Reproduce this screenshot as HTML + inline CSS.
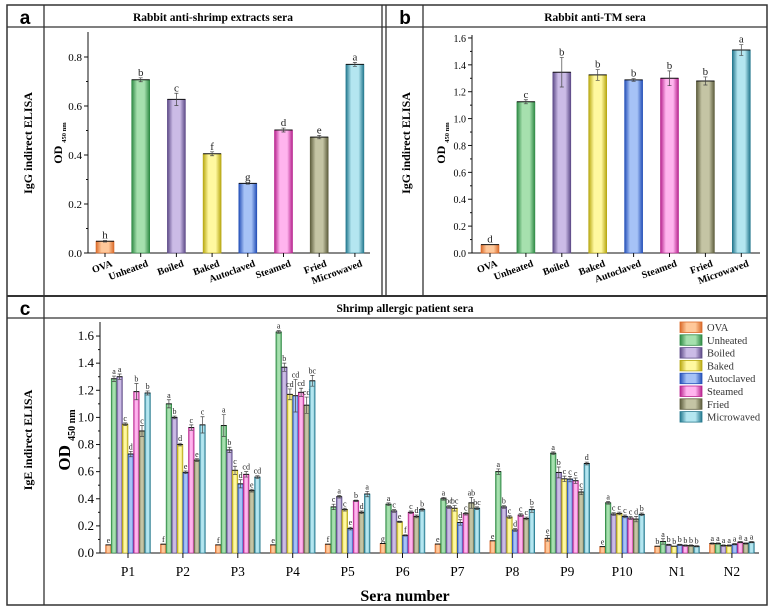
<!DOCTYPE html>
<html><head><meta charset="utf-8"><style>
html,body{margin:0;padding:0;background:#fff;}
svg{display:block;}
text{font-family:"Liberation Serif",serif;}
text.pl{font-family:"Liberation Sans",sans-serif;}
</style></head><body>
<svg id="s" width="777" height="613" xmlns="http://www.w3.org/2000/svg"></svg>
<script>
(function(){
const C=[["#d96a2a","#ffc89a"],["#2f8a45","#a6e0ae"],["#5e4b88","#cbbbe6"],["#b8a812","#fff8a0"],["#2550b8","#a6c2f6"],["#b8248e","#ffb4ee"],["#5e5e3e","#c4c4a4"],["#24788e","#b4e6f0"]];
const names=["OVA","Unheated","Boiled","Baked","Autoclaved","Steamed","Fried","Microwaved"];
let h='<defs>';
C.forEach((c,i)=>{h+=`<linearGradient id="g${i}" x1="0" x2="1" y1="0" y2="0"><stop offset="0" stop-color="${c[0]}"/><stop offset="0.3" stop-color="${c[1]}"/><stop offset="0.7" stop-color="${c[1]}"/><stop offset="1" stop-color="${c[0]}"/></linearGradient>`});
h+='</defs>';
const L='stroke="#333" fill="none"';
h+=`<rect x="7" y="5" width="760" height="600" ${L} stroke-width="1.5"/>`;
h+=`<line x1="7" y1="27" x2="767" y2="27" stroke="#333" stroke-width="1.3"/>`;
h+=`<line x1="7" y1="296" x2="767" y2="296" stroke="#333" stroke-width="2"/>`;
h+=`<line x1="7" y1="318" x2="767" y2="318" stroke="#333" stroke-width="1.3"/>`;
h+=`<line x1="44" y1="5" x2="44" y2="605" stroke="#333" stroke-width="1.3"/>`;
h+=`<line x1="382" y1="5" x2="382" y2="296" stroke="#333" stroke-width="1.3"/>`;
h+=`<line x1="386" y1="5" x2="386" y2="296" stroke="#333" stroke-width="1.3"/>`;
h+=`<line x1="423" y1="5" x2="423" y2="296" stroke="#333" stroke-width="1.3"/>`;
h+=`<text class="pl" x="25" y="24" font-weight="bold" font-size="19" text-anchor="middle">a</text>`;
h+=`<text class="pl" x="405" y="24" font-weight="bold" font-size="19" text-anchor="middle">b</text>`;
h+=`<text class="pl" x="25" y="315" font-weight="bold" font-size="19" text-anchor="middle">c</text>`;
h+=`<text x="213" y="21" font-weight="bold" font-size="11.5" text-anchor="middle">Rabbit anti-shrimp extracts sera</text>`;
h+=`<text x="595" y="21" font-weight="bold" font-size="11.5" text-anchor="middle">Rabbit anti-TM sera</text>`;
h+=`<text x="405" y="312" font-weight="bold" font-size="11.5" text-anchor="middle">Shrimp allergic patient sera</text>`;
function rot(x,y,t,fs,fw){return `<text transform="translate(${x},${y}) rotate(-90)" font-size="${fs}" font-weight="${fw}" text-anchor="middle">${t}</text>`;}
h+=rot(32,143,"IgG indirect ELISA",12,"bold");
h+=rot(410,143,"IgG indirect ELISA",12,"bold");
h+=rot(32,440,"IgE indirect ELISA",12,"bold");
h+=`<text transform="translate(62,143) rotate(-90)" font-size="12" font-weight="bold" text-anchor="middle">OD <tspan font-size="6.5" dy="4">450 nm</tspan></text>`;
h+=`<text transform="translate(445,143) rotate(-90)" font-size="12" font-weight="bold" text-anchor="middle">OD <tspan font-size="6.5" dy="4">450 nm</tspan></text>`;
h+=`<text transform="translate(70,440) rotate(-90)" font-size="17" font-weight="bold" text-anchor="middle">OD <tspan font-size="10" dy="5">450 nm</tspan></text>`;
function bar(x,w,y0,yv,i,err,lab,fs){
 let s=`<rect x="${x}" y="${yv}" width="${w}" height="${y0-yv}" fill="url(#g${i})" stroke="${C[i][0]}" stroke-width="0.6"/>`;
 s+=`<line x1="${x}" x2="${x+w}" y1="${yv}" y2="${yv}" stroke="#111" stroke-width="1"/>`;
 if(err>0.5){const cx=x+w/2;s+=`<path d="M${cx} ${yv-err}V${yv+err}M${cx-2} ${yv-err}H${cx+2}M${cx-2} ${yv+err}H${cx+2}" stroke="#444" stroke-width="0.7"/>`;}
 s+=`<text x="${x+w/2}" y="${yv-err-2}" font-size="${fs}" text-anchor="middle" fill="#222">${lab}</text>`;
 return s;}
function yaxis(ax,y0,ppu,max,step,xend,fs,tl){
 let s=`<path d="M${ax} ${tl}V${y0}H${xend}" stroke="#111" stroke-width="1" fill="none"/>`;
 for(let v=0;v<=max+1e-6;v+=step/2){const y=y0-v*ppu;const major=Math.abs(Math.round(v/step)*step-v)<1e-6;
  s+=`<line x1="${ax-(major?4:2)}" x2="${ax}" y1="${y}" y2="${y}" stroke="#111"/>`;
  if(major)s+=`<text x="${ax-6}" y="${y+4}" font-size="${fs}" text-anchor="end">${v.toFixed(1)}</text>`;}
 return s;}
h+=yaxis(88,253,245,0.8,0.2,370,11,32);
const va=[.048,.707,.627,.405,.284,.502,.473,.770],ea=[.003,.008,.025,.008,.003,.008,.007,.008],la=["h","b","c","f","g","d","e","a"];
va.forEach((v,i)=>{const cx=105+i*35.7;h+=bar(cx-9,18,253,253-v*245,i,ea[i]*245,la[i],11);
 h+=`<line x1="${cx}" x2="${cx}" y1="253" y2="257" stroke="#111"/>`;
 h+=`<text transform="translate(${cx+8},266) rotate(-20)" font-size="10" font-weight="bold" text-anchor="end">${names[i]}</text>`;});
h+=yaxis(472,253,134.4,1.6,0.2,760,10,35);
const vb=[.062,1.125,1.345,1.325,1.288,1.30,1.28,1.51],eb=[.003,.015,.11,.04,.01,.055,.03,.04],lb=["d","c","b","b","b","b","b","a"];
vb.forEach((v,i)=>{const cx=490+i*35.9;h+=bar(cx-9,18,253,253-v*134.4,i,eb[i]*134.4,lb[i],11);
 h+=`<line x1="${cx}" x2="${cx}" y1="253" y2="257" stroke="#111"/>`;
 h+=`<text transform="translate(${cx+8},266) rotate(-20)" font-size="10" font-weight="bold" text-anchor="end">${names[i]}</text>`;});
h+=yaxis(100,553,135.6,1.6,0.2,759,13,322);
const D=[
[[.06,1.285,1.30,.95,.73,1.19,.90,1.18],"e a a c d b c b",[0,.02,.02,.01,.02,.06,.04,.015]],
[[.065,1.10,1.00,.80,.595,.925,.685,.945],"f a b d e c e c",[0,.03,.01,.01,.01,.02,.01,.06]],
[[.06,.94,.76,.61,.51,.58,.46,.56],"f a b c d cd e cd",[0,.08,.02,.03,.03,.02,.01,.01]],
[[.06,1.63,1.37,1.17,1.16,1.185,1.09,1.27],"e a b cd cd cd cd bc",[0,.01,.03,.04,.12,.03,.06,.04]],
[[.065,.34,.415,.32,.18,.385,.30,.435],"f c a c e b d a",[0,.02,.01,.01,.01,.005,.01,.02]],
[[.07,.36,.31,.23,.13,.30,.27,.32],"g a c e f c d b",[0,.01,.01,.005,.005,.01,.01,.01]],
[[.066,.40,.34,.33,.225,.29,.37,.33],"e a bc bc d c ab bc",[0,.01,.01,.02,.02,.01,.04,.01]],
[[.09,.60,.34,.265,.17,.28,.255,.32],"e a b c d c c b",[0,.02,.01,.01,.01,.01,.01,.02]],
[[.108,.736,.594,.547,.545,.533,.45,.66],"e a b c c c c d b",[.02,.01,.04,.02,.02,.02,.02,.01]],
[[.047,.37,.287,.292,.27,.258,.25,.285],"e a c c c c d b",[0,.01,.01,.01,.01,.01,.02,.01]],
[[.05,.085,.06,.05,.06,.055,.055,.05],"b a b b b b b b",[0,.02,.005,0,.005,.005,.005,.005]],
[[.07,.07,.055,.055,.065,.08,.07,.08],"a a a a a a a a",[.005,.005,.005,.005,.005,.005,.005,.005]]];
const gl=["P1","P2","P3","P4","P5","P6","P7","P8","P9","P10","N1","N2"];
D.forEach((g,k)=>{const cx=128+k*54.9;const ls=g[1].split(" ");
 g[0].forEach((v,i)=>{const x=cx-22.4+i*5.6;h+=bar(x,5.6,553,553-v*135.6,i,g[2][i]*135.6,ls[i],8);});
 h+=`<line x1="${cx}" x2="${cx}" y1="553" y2="558" stroke="#111"/>`;
 h+=`<text x="${cx}" y="576" font-size="13.5" text-anchor="middle">${gl[k]}</text>`;});
h+=`<text x="405" y="601" font-size="16" font-weight="bold" text-anchor="middle">Sera number</text>`;
h+=`<rect x="677" y="320" width="83" height="104" fill="#fff"/>`;
names.forEach((n,i)=>{const y=322+i*12.8;h+=`<rect x="680" y="${y}" width="22" height="10.5" fill="url(#g${i})" stroke="${C[i][0]}" stroke-width="0.8"/>`;
 h+=`<text x="707" y="${y+9}" font-size="10.5" fill="#333">${n}</text>`;});
document.getElementById('s').innerHTML=h;
})();
</script>
</body></html>
